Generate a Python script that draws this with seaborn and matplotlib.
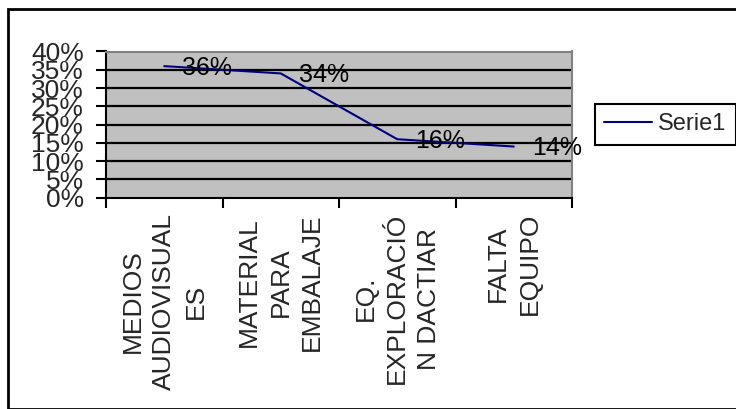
import matplotlib
matplotlib.use("Agg")
import matplotlib.pyplot as plt
import seaborn as sns
import pandas as pd
from matplotlib.patches import Rectangle

categories = ["MEDIOS\nAUDIOVISUAL\nES", "MATERIAL\nPARA\nEMBALAJE",
              "EQ.\nEXPLORACIÓ\nN DACTIAR", "FALTA\nEQUIPO"]
values = [0.36, 0.34, 0.16, 0.14]
value_labels = ["36%", "34%", "16%", "14%"]
yticks = [0, 0.05, 0.10, 0.15, 0.20, 0.25, 0.30, 0.35, 0.40]
ytick_labels = ["0%", "5%", "10%", "15%", "20%", "25%", "30%", "35%", "40%"]
series_name = "Serie1"

sns.set_theme(style="white")
plt.rcParams["font.family"] = ["Liberation Sans", "DejaVu Sans"]

df = pd.DataFrame({"cat": categories, "val": values, "serie": series_name})

fig = plt.figure(figsize=(7.36, 4.09), dpi=100)
ax = fig.add_axes([106/736, 1-197.7/409, (572-106)/736, (197.7-51.5)/409])
ax.set_facecolor("#C0C0C0")

sns.lineplot(data=df, x="cat", y="val", hue="serie", palette=["#000080"],
             linewidth=1.5, ax=ax, legend=True, sort=False)

ax.set_xlim(-0.5, len(categories) - 0.5)
ax.set_ylim(0, 0.40)
ax.set_yticks(yticks)
ax.set_yticklabels(ytick_labels, fontsize=19)
for y in yticks[1:]:
    ax.axhline(y, color="black", linewidth=1.6, zorder=1)

ax.set_xticks(range(len(categories)))
ax.set_xticklabels(categories, rotation=90, fontsize=19, ha="center", va="top",
                   multialignment="center", linespacing=1.4)
ax.set_xticks([i - 0.5 for i in range(len(categories) + 1)], minor=True)
ax.tick_params(axis="x", which="major", length=0, pad=11)
ax.tick_params(axis="x", which="minor", length=7, width=1.5, color="black", bottom=True)
ax.tick_params(axis="y", which="major", length=7, width=1.5, color="black", left=True, pad=9)
ax.set_xlabel("")
ax.set_ylabel("")

for s in ["left", "bottom"]:
    ax.spines[s].set_color("black")
    ax.spines[s].set_linewidth(1.5)
for s in ["top", "right"]:
    ax.spines[s].set_color("#808080")
    ax.spines[s].set_linewidth(1.5)

for i, (v, lab) in enumerate(zip(values, value_labels)):
    ax.annotate(lab, (i, v), xytext=(13, -1), textcoords="offset points",
                ha="left", va="center", fontsize=18, color="black")

handles, labels = ax.get_legend_handles_labels()
ax.get_legend().remove()
leg = fig.legend(handles, labels, loc="center right", bbox_to_anchor=(1.0, 1 - 124.5/409),
                 bbox_transform=fig.transFigure, fontsize=17, frameon=True,
                 fancybox=False, edgecolor="black", framealpha=1, handlelength=2.03,
                 handletextpad=0.25, borderpad=0.4, borderaxespad=0)
leg.get_frame().set_linewidth(1.5)

fig.patches.append(Rectangle((8/736, 0), 1, 1 - 9/409, transform=fig.transFigure,
                             fill=False, edgecolor="black", linewidth=2))

fig.savefig("out.png", dpi=100)
